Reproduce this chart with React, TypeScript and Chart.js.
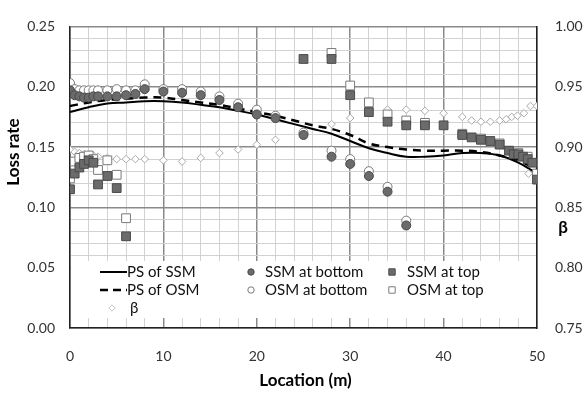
import React, { useEffect, useRef } from 'react';
import { Chart, registerables } from 'chart.js';

Chart.register(...registerables);

// Fitted curves (read every 2 m)
const curveX = [0, 2, 4, 6, 8, 10, 12, 14, 16, 18, 20, 22, 24, 26, 28, 30, 32, 34, 36, 38, 40, 42, 44, 46, 48, 50];
const psSSM = [0.179, 0.183, 0.186, 0.187, 0.188, 0.188, 0.187, 0.185, 0.183, 0.180, 0.177, 0.173, 0.169, 0.165, 0.161, 0.155, 0.149, 0.145, 0.142, 0.142, 0.143, 0.145, 0.145, 0.143, 0.137, 0.128];
const psOSM = [0.184, 0.187, 0.189, 0.190, 0.191, 0.191, 0.189, 0.187, 0.185, 0.182, 0.179, 0.176, 0.172, 0.168, 0.165, 0.160, 0.153, 0.150, 0.148, 0.147, 0.147, 0.147, 0.146, 0.143, 0.139, 0.131];

// Measurements at bottom
const bottomX = [0, 0.5, 1, 1.5, 2, 2.5, 3, 4, 5, 6, 7, 8, 10, 12, 14, 16, 18, 20, 22, 25, 28, 30, 32, 34, 36];
const ssmBottom = [0.197, 0.193, 0.192, 0.191, 0.191, 0.192, 0.192, 0.192, 0.192, 0.193, 0.194, 0.198, 0.196, 0.195, 0.193, 0.189, 0.183, 0.177, 0.174, 0.160, 0.142, 0.136, 0.126, 0.113, 0.085];
const osmBottom = [0.203, 0.198, 0.197, 0.197, 0.197, 0.197, 0.197, 0.197, 0.198, 0.197, 0.197, 0.202, 0.198, 0.198, 0.196, 0.192, 0.186, 0.181, 0.176, 0.162, 0.147, 0.140, 0.130, 0.117, 0.089];

// Measurements at top
const ssmTopX = [0, 0.5, 1, 1.5, 2, 2.5, 3, 4, 5, 6, 25, 28, 30, 32, 34, 36, 38, 40, 42, 43, 44, 45, 46, 47, 47.5, 48, 48.5, 49, 49.5, 50];
const ssmTop = [0.115, 0.128, 0.133, 0.136, 0.139, 0.137, 0.119, 0.126, 0.116, 0.076, 0.223, 0.223, 0.193, 0.179, 0.171, 0.168, 0.168, 0.168, 0.160, 0.158, 0.156, 0.155, 0.152, 0.147, 0.144, 0.144, 0.142, 0.140, 0.137, 0.123];
const osmTopX = [0, 0.5, 1, 1.5, 2, 2.5, 3, 4, 5, 6, 28, 30, 32, 34, 36, 38, 42, 44, 46, 48, 49, 50];
const osmTop = [0.124, 0.138, 0.141, 0.142, 0.143, 0.140, 0.131, 0.139, 0.127, 0.091, 0.228, 0.201, 0.187, 0.177, 0.172, 0.170, 0.161, 0.157, 0.153, 0.145, 0.142, 0.128];

// beta (right axis)
const betaX = [0, 0.5, 1, 1.5, 2, 2.5, 3, 4, 5, 6, 7, 8, 10, 12, 14, 16, 18, 20, 22, 28, 30, 34, 36, 38, 40, 42, 43, 44, 45, 46, 46.7, 47.3, 47.9, 48.6, 49.1, 49.3, 50];
const beta = [0.898, 0.896, 0.895, 0.894, 0.894, 0.893, 0.892, 0.891, 0.890, 0.890, 0.890, 0.890, 0.889, 0.888, 0.891, 0.895, 0.898, 0.902, 0.906, 0.919, 0.924, 0.931, 0.931, 0.930, 0.928, 0.925, 0.922, 0.921, 0.921, 0.922, 0.923, 0.925, 0.926, 0.928, 0.878, 0.934, 0.934];

const FONT = 'Lato';
const FILL_DARK = '#6b6b6b';
const BORDER_DARK = '#4a4a4a';
const BORDER_OPEN = '#7a7a7a';
const BORDER_BETA = '#a9a9a9';

const pts = (xs: number[], ys: number[]) => xs.map((x, i) => ({ x, y: ys[i] }));

const overlayPlugin = {
  id: 'overlay',
  afterDraw(chart: any) {
    const ctx = chart.ctx as CanvasRenderingContext2D;
    const ca = chart.chartArea;
    ctx.save();
    // Legend box inside plot
    ctx.fillStyle = '#ffffff';
    ctx.fillRect(ca.left + 1, 261, ca.right - ca.left - 2, 57);

    const r1 = 272, r2 = 290, r3 = 308;
    // line samples
    ctx.strokeStyle = '#000';
    ctx.lineWidth = 2;
    ctx.beginPath(); ctx.moveTo(100, r1); ctx.lineTo(127, r1); ctx.stroke();
    ctx.lineWidth = 2.5;
    ctx.setLineDash([8, 5]);
    ctx.beginPath(); ctx.moveTo(100, r2); ctx.lineTo(127, r2); ctx.stroke();
    ctx.setLineDash([]);

    // markers
    const circle = (x: number, y: number, r: number, fill: string, stroke: string) => {
      ctx.beginPath(); ctx.arc(x, y, r, 0, Math.PI * 2);
      ctx.fillStyle = fill; ctx.fill(); ctx.lineWidth = 1; ctx.strokeStyle = stroke; ctx.stroke();
    };
    const square = (x: number, y: number, h: number, fill: string, stroke: string) => {
      ctx.beginPath(); ctx.rect(x - h, y - h, 2 * h, 2 * h);
      ctx.fillStyle = fill; ctx.fill(); ctx.lineWidth = 1; ctx.strokeStyle = stroke; ctx.stroke();
    };
    const diamond = (x: number, y: number, r: number) => {
      ctx.beginPath(); ctx.moveTo(x, y - r); ctx.lineTo(x + r, y); ctx.lineTo(x, y + r); ctx.lineTo(x - r, y); ctx.closePath();
      ctx.fillStyle = '#fff'; ctx.fill(); ctx.lineWidth = 1; ctx.strokeStyle = '#c4c4c4'; ctx.stroke();
    };
    circle(251, r1, 3.2, FILL_DARK, BORDER_DARK);
    circle(251, r2, 3.2, '#fff', BORDER_OPEN);
    square(392, r1, 3.2, FILL_DARK, BORDER_DARK);
    square(392, r2, 3.2, '#fff', BORDER_OPEN);
    diamond(112, r3, 3.2);

    ctx.fillStyle = '#111';
    ctx.font = `15px ${FONT}`;
    ctx.textAlign = 'left';
    ctx.textBaseline = 'middle';
    ctx.fillText('PS of SSM', 127, r1);
    ctx.fillText('PS of OSM', 127, r2);
    ctx.fillText('β', 130, r3);
    ctx.fillText('SSM at bottom', 265, r1);
    ctx.fillText('OSM at bottom', 265, r2);
    ctx.fillText('SSM at top', 407, r1);
    ctx.fillText('OSM at top', 407, r2);

    // Axis titles
    ctx.fillStyle = '#000';
    ctx.font = `bold 17px ${FONT}`;
    ctx.textAlign = 'center';
    ctx.fillText('Location (m)', (ca.left + ca.right) / 2 + 2, 381);
    ctx.fillText('β', 563, 228);
    ctx.translate(14, 152);
    ctx.rotate(-Math.PI / 2);
    ctx.fillText('Loss rate', 0, 0);
    ctx.restore();
  },
};

export default function App() {
  const ref = useRef<HTMLCanvasElement | null>(null);

  useEffect(() => {
    if (!ref.current) return;
    const majorX = (v: number) => Math.round(v) % 10 === 0;
    const majorY = (v: number) => Math.round(v * 100) % 5 === 0;
    const chart = new Chart(ref.current, {
      type: 'scatter',
      data: {
        datasets: [
          {
            label: 'SSM at bottom',
            data: pts(bottomX, ssmBottom),
            pointStyle: 'circle',
            pointRadius: 4.5,
            backgroundColor: FILL_DARK,
            borderColor: BORDER_DARK,
            pointBorderWidth: 1,
            yAxisID: 'y',
          },
          {
            label: 'OSM at bottom',
            data: pts(bottomX, osmBottom),
            pointStyle: 'circle',
            pointRadius: 4.5,
            backgroundColor: '#ffffff',
            borderColor: BORDER_OPEN,
            pointBorderWidth: 1,
            yAxisID: 'y',
          },
          {
            label: 'SSM at top',
            data: pts(ssmTopX, ssmTop),
            pointStyle: 'rect',
            pointRadius: 6.2,
            backgroundColor: FILL_DARK,
            borderColor: BORDER_DARK,
            pointBorderWidth: 1,
            yAxisID: 'y',
          },
          {
            label: 'OSM at top',
            data: pts(osmTopX, osmTop),
            pointStyle: 'rect',
            pointRadius: 6.2,
            backgroundColor: '#ffffff',
            borderColor: BORDER_OPEN,
            pointBorderWidth: 1,
            yAxisID: 'y',
          },
          {
            label: 'β',
            data: pts(betaX, beta),
            pointStyle: 'rectRot',
            pointRadius: 3.8,
            backgroundColor: '#ffffff',
            borderColor: BORDER_BETA,
            pointBorderWidth: 1,
            yAxisID: 'y1',
          },
          {
            type: 'line',
            label: 'PS of SSM',
            data: pts(curveX, psSSM),
            borderColor: '#000',
            borderWidth: 2,
            pointRadius: 0,
            tension: 0.4,
            fill: false,
            yAxisID: 'y',
          } as any,
          {
            type: 'line',
            label: 'PS of OSM',
            data: pts(curveX, psOSM),
            borderColor: '#000',
            borderWidth: 2.5,
            borderDash: [8, 6],
            pointRadius: 0,
            tension: 0.4,
            fill: false,
            yAxisID: 'y',
          } as any,
        ],
      },
      options: {
        responsive: false,
        animation: false,
        events: [],
        layout: { padding: { top: 13, left: 0, right: 0, bottom: 0 } },
        plugins: { legend: { display: false }, tooltip: { enabled: false } },
        scales: {
          x: {
            type: 'linear',
            min: 0,
            max: 50,
            afterFit: (s: any) => { s.height = 66; },
            ticks: {
              stepSize: 2,
              autoSkip: false,
              maxRotation: 0,
              padding: 20,
              color: '#333',
              font: { family: FONT, size: 14 },
              callback: (v: any) => (majorX(Number(v)) ? String(Math.round(Number(v))) : ''),
            },
            grid: {
              drawTicks: false,
              color: (c: any) => (majorX(c.tick.value) ? '#8a8a8a' : '#d2d2d2'),
              lineWidth: (c: any) => (majorX(c.tick.value) ? 1.5 : 1),
            },
            border: { color: '#222', width: 1.5 },
          },
          y: {
            type: 'linear',
            position: 'left',
            min: 0,
            max: 0.25,
            afterFit: (s: any) => { s.width = 70; },
            ticks: {
              stepSize: 0.01,
              autoSkip: false,
              padding: 15,
              color: '#333',
              font: { family: FONT, size: 14 },
              callback: (v: any) => (majorY(Number(v)) ? Number(v).toFixed(2) : ''),
            },
            grid: {
              drawTicks: false,
              color: (c: any) => (majorY(c.tick.value) ? '#8a8a8a' : '#d2d2d2'),
              lineWidth: (c: any) => (majorY(c.tick.value) ? 1.5 : 1),
            },
            border: { color: '#222', width: 1.5 },
          },
          y1: {
            type: 'linear',
            position: 'right',
            min: 0.75,
            max: 1.0,
            afterFit: (s: any) => { s.width = 50; },
            ticks: {
              stepSize: 0.05,
              padding: 18,
              color: '#333',
              font: { family: FONT, size: 14 },
              callback: (v: any) => Number(v).toFixed(2),
            },
            grid: { drawOnChartArea: false, drawTicks: false },
            border: { color: '#222', width: 1.5 },
          },
        },
      },
      plugins: [overlayPlugin],
    } as any);
    return () => chart.destroy();
  }, []);

  return (
    <div style={{ position: 'absolute', left: 0, top: 0, width: 587, height: 394, background: '#fff' }}>
      <canvas ref={ref} width={587} height={394} style={{ width: 587, height: 394 }} />
    </div>
  );
}
